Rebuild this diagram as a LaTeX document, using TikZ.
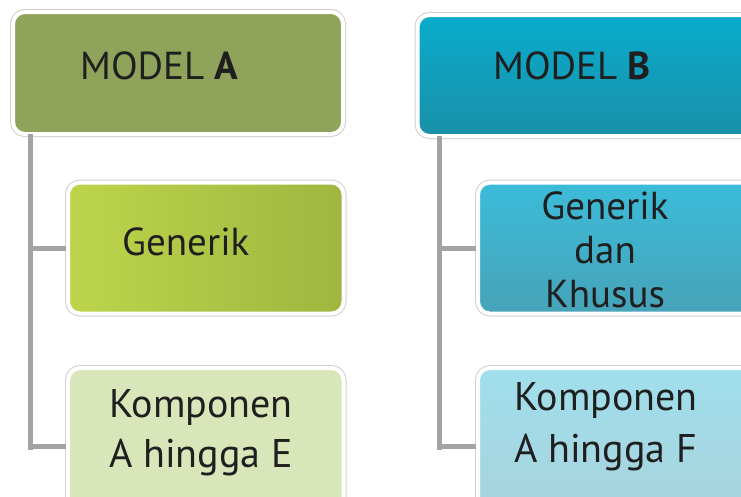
\documentclass[tikz,border=0pt]{standalone}
\usepackage{fontspec}
\setmainfont{PT Sans}
\definecolor{topAfill}{HTML}{8FA35A}
\definecolor{genAleft}{HTML}{BDD54B}
\definecolor{genAright}{HTML}{9FB640}
\definecolor{komAfill}{HTML}{D9E6B9}
\definecolor{topBtop}{HTML}{09ACCD}
\definecolor{topBbot}{HTML}{1A90A8}
\definecolor{genBtop}{HTML}{3BBCD9}
\definecolor{genBbot}{HTML}{47A3B8}
\definecolor{komBtop}{HTML}{A0DFEC}
\definecolor{komBbot}{HTML}{A8D2DC}
\begin{document}
\begin{tikzpicture}[x=1pt, y=-1pt,
  box/.style={rounded corners=12pt, draw=white, line width=4pt,
    preaction={draw=black!18, line width=6pt}, inner sep=0pt},
  stem/.style={line width=5pt, draw=black!36},
  lbl/.style={inner sep=0pt, text=black!88}]

\useasboundingbox (0,0) rectangle (741,496);

% model A
\node (topA) [box, fill=topAfill, minimum width=330, minimum height=122] at (178,73) {};
\node (genA) [box, left color=genAleft, right color=genAright, minimum width=275.5, minimum height=131] at (205.75,248) {};
\node (komA) [box, fill=komAfill, minimum width=275.5, minimum height=156] at (205.75,446) {};

% model B
\node (topB) [box, top color=topBtop, bottom color=topBbot, minimum width=340, minimum height=121] at (587.5,75.5) {};
\node (genB) [box, top color=genBtop, bottom color=genBbot, minimum width=290, minimum height=131] at (623,248) {};
\node (komB) [box, top color=komBtop, bottom color=komBbot, minimum width=290, minimum height=156] at (623,446) {};

% stems
\coordinate (stemA) at (30,134);
\coordinate (stemB) at (439,136);
\draw[stem] (stemA) -- ([yshift=-4pt]stemA |- komA.west);
\draw[stem] (stemB) -- ([yshift=-4pt]stemB |- komB.west);
\foreach \n in {genA,komA} {\draw[stem] (stemA |- \n.west) -- (\n.west);}
\foreach \n in {genB,komB} {\draw[stem] (stemB |- \n.west) -- (\n.west);}

% labels (base = last line)
\node (topAtxt) [lbl, anchor=base west, font=\fontsize{39}{48}\selectfont] at (80,79) {MODEL \textbf{A}};
\node (genAtxt) [lbl, anchor=base west, font=\fontsize{39}{48}\selectfont] at (122,255) {Generik};
\node (komAtxt) [lbl, anchor=base west, align=left, font=\fontsize{40}{50}\selectfont] at (109,467) {Komponen\\A hingga E};
\node (topBtxt) [lbl, anchor=base west, font=\fontsize{39}{48}\selectfont] at (493,79) {MODEL \textbf{B}};
\node (genBtxt) [lbl, anchor=base, align=center, font=\fontsize{39}{44}\selectfont] at (605,307) {Generik\\dan\\Khusus};
\node (komBtxt) [lbl, anchor=base west, align=left, font=\fontsize{40}{52}\selectfont] at (514,462) {Komponen\\A hingga F};

\end{tikzpicture}
\end{document}
